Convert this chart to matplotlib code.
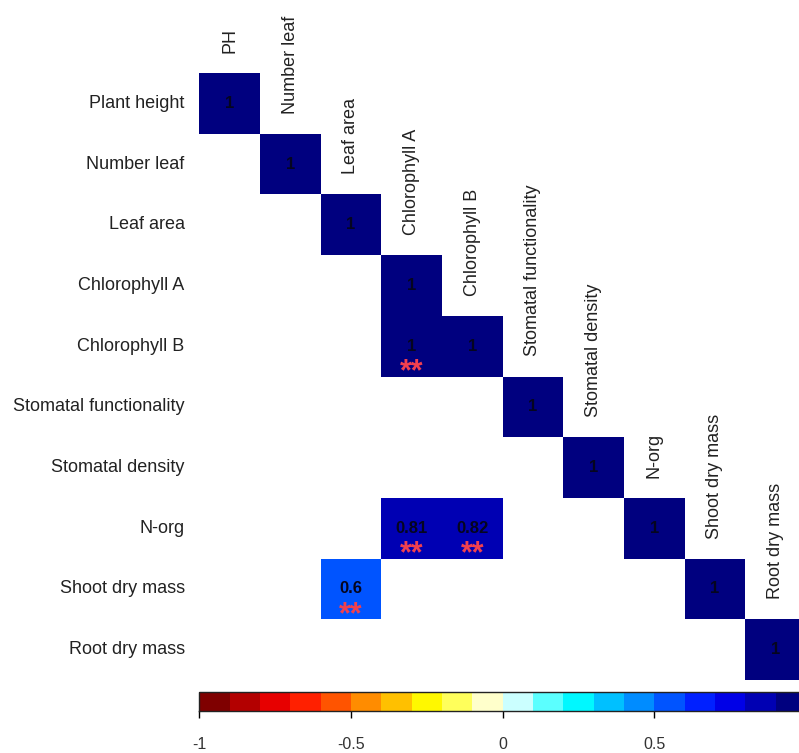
import numpy as np
import matplotlib.pyplot as plt
from matplotlib.colors import LinearSegmentedColormap, ListedColormap, BoundaryNorm

# variables (rows) and the short names written on the diagonal
row_labels = ['Plant height', 'Number leaf', 'Leaf area', 'Chlorophyll A', 'Chlorophyll B',
              'Stomatal functionality', 'Stomatal density', 'N-org', 'Shoot dry mass', 'Root dry mass']
col_labels = ['PH', 'Number leaf', 'Leaf area', 'Chlorophyll A', 'Chlorophyll B',
              'Stomatal functionality', 'Stomatal density', 'N-org', 'Shoot dry mass', 'Root dry mass']

# significant off-diagonal correlations (all others left blank)
pair_row = ['Chlorophyll B', 'N-org', 'N-org', 'Shoot dry mass']
pair_col = ['Chlorophyll A', 'Chlorophyll A', 'Chlorophyll B', 'Leaf area']
pair_r = [0.996, 0.81, 0.82, 0.6]
pair_sig = ['**', '**', '**', '**']

# the "1" end of the colour bar falls off the right edge of the picture
cbar_ticks = [-1, -0.5, 0, 0.5]

n = len(row_labels)
corr = np.full((n, n), np.nan)
np.fill_diagonal(corr, 1.0)
for rn, cn, r in zip(pair_row, pair_col, pair_r):
    corr[row_labels.index(rn), row_labels.index(cn)] = r

# 20-step palette like the classic corrplot example
anchors = ['#7F0000', 'red', '#FF7F00', 'yellow', 'white', 'cyan', '#007FFF', 'blue', '#00007F']
ramp = LinearSegmentedColormap.from_list('ramp', anchors)
cmap = ListedColormap([ramp(i / 19) for i in range(20)])
norm = BoundaryNorm(np.linspace(-1, 1, 21), cmap.N)

plt.rcParams['font.family'] = ['Liberation Sans', 'DejaVu Sans']

W, H = 799, 753
fig = plt.figure(figsize=(W / 100, H / 100), dpi=100)
x0, x1 = 199.3, 806.0
y0, y1 = 73.0, 680.0
ax = fig.add_axes([x0 / W, 1 - y1 / H, (x1 - x0) / W, (y1 - y0) / H])

mesh = ax.pcolormesh(np.arange(n + 1), np.arange(n + 1), np.ma.masked_invalid(corr),
                     cmap=cmap, norm=norm)
ax.set_xlim(0, n)
ax.set_ylim(n, 0)
ax.axis('off')

txt_col = '#05051f'
star_col = '#f0404f'

for i in range(n):
    ax.text(-0.24, i + 0.5, row_labels[i], ha='right', va='center', fontsize=13, color='#222222')
    ax.text(i + 0.5, i - 0.33, col_labels[i], ha='center', va='bottom', rotation=90,
            fontsize=13, color='#222222')
    ax.text(i + 0.5, i + 0.5, '1', ha='center', va='center', fontsize=12,
            fontweight='bold', color=txt_col)

for rn, cn, r, s in zip(pair_row, pair_col, pair_r, pair_sig):
    ri, ci = row_labels.index(rn), row_labels.index(cn)
    ax.text(ci + 0.5, ri + 0.5, f'{round(r, 2):g}', ha='center', va='center', fontsize=12,
            fontweight='bold', color=txt_col)
    ax.text(ci + 0.5, ri + 1.06, s, ha='center', va='baseline', fontsize=22,
            fontweight='bold', color=star_col)

cax = fig.add_axes([x0 / W, 1 - 711 / H, (x1 - x0) / W, 19.5 / H])
cb = fig.colorbar(mesh, cax=cax, orientation='horizontal', ticks=cbar_ticks)
cb.set_ticklabels([f'{t:g}' for t in cbar_ticks])
cb.ax.minorticks_off()
cb.ax.tick_params(length=5, width=1, pad=14, labelsize=11.5, labelcolor='#333333')
cb.outline.set_edgecolor('#222222')
cb.outline.set_linewidth(1)

plt.savefig('out.png', dpi=100)
